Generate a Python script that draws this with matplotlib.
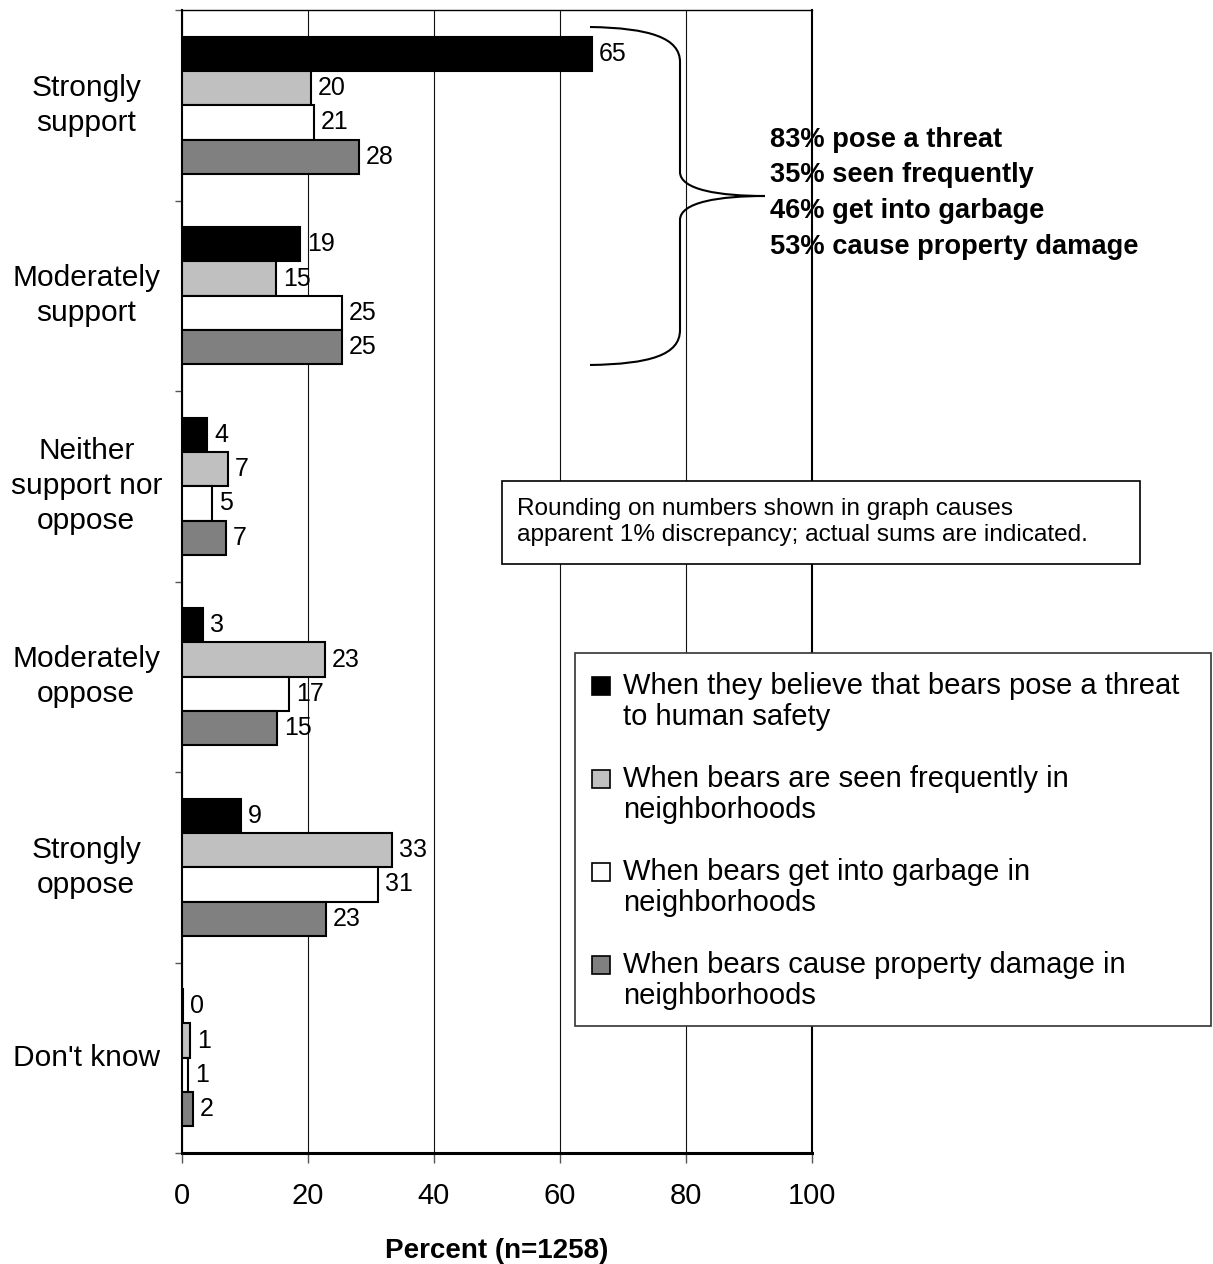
import numpy as np
import matplotlib.pyplot as plt
from matplotlib.patches import Rectangle, PathPatch
from matplotlib.path import Path

plt.rcParams['font.family'] = ['Liberation Sans', 'DejaVu Sans']

categories = ['Strongly\nsupport', 'Moderately\nsupport', 'Neither\nsupport nor\noppose',
              'Moderately\noppose', 'Strongly\noppose', "Don't know"]
series = ['When they believe that bears pose a threat\nto human safety',
          'When bears are seen frequently in\nneighborhoods',
          'When bears get into garbage in\nneighborhoods',
          'When bears cause property damage in\nneighborhoods']
colors = ['#000000', '#C0C0C0', '#FFFFFF', '#808080']

threat = [65.0, 18.7, 4.0, 3.4, 9.4, 0.2]
seen = [20.4, 14.9, 7.3, 22.7, 33.4, 1.3]
garbage = [21.0, 25.4, 4.8, 17.0, 31.1, 1.0]
damage = [28.1, 25.4, 7.0, 15.1, 22.9, 1.7]
values = [threat, seen, garbage, damage]

support_totals = [83, 35, 46, 53]
support_names = ['pose a threat', 'seen frequently', 'get into garbage', 'cause property damage']
note = 'Rounding on numbers shown in graph causes\napparent 1% discrepancy; actual sums are indicated.'

W, H = 1213, 1264
fig = plt.figure(figsize=(W / 100, H / 100), dpi=100)
ax = fig.add_axes([182 / W, 1 - 1153 / H, 630 / W, 1143 / H])


def px(x, y):
    # figure pixel (from top-left) -> figure fraction
    return x / W, 1 - y / H


y = np.arange(len(categories))
h = 0.18
for i, vals in enumerate(values):
    bars = ax.barh(y + (i - 1.5) * h, vals, height=h, color=colors[i],
                   edgecolor='black', linewidth=1.5, zorder=3)
    for b, v in zip(bars, vals):
        ax.annotate('%.0f' % v, (b.get_width(), b.get_y() + b.get_height() / 2),
                    xytext=(5, 0), textcoords='offset points', ha='left', va='center',
                    fontsize=18, zorder=5)

ax.set_xlim(0, 100)
ax.set_ylim(len(categories) - 0.5, -0.5)
ax.set_xticks(np.arange(0, 101, 20))
ax.tick_params(axis='x', labelsize=21, length=7, width=1, color='#555555', pad=14)
ax.set_yticks(np.arange(-0.5, len(categories), 1))
ax.set_yticklabels([])
ax.tick_params(axis='y', length=5, width=1, color='#555555')
for yy, cat in zip(y, categories):
    ax.text(-0.152, yy, cat, transform=ax.get_yaxis_transform(), ha='center', va='center',
            multialignment='center', fontsize=21.5, linespacing=1.32)
ax.set_xlabel('Percent (n=1258)', fontsize=20, fontweight='bold', labelpad=20)
ax.xaxis.grid(True, color='#111111', linewidth=0.8, zorder=0)
ax.set_axisbelow(True)
ax.spines['left'].set_linewidth(1.5)
ax.spines['bottom'].set_linewidth(2.2)
ax.spines['right'].set_linewidth(1.5)
ax.spines['top'].set_linewidth(1.0)

# brace
pts = [px(590, 27), px(650, 28), px(680, 38), px(680, 62),
       px(680, 172),
       px(680, 190), px(720, 196), px(765, 196),
       px(720, 196), px(680, 202), px(680, 220),
       px(680, 330),
       px(680, 355), px(650, 364), px(590, 365)]
codes = [Path.MOVETO, Path.CURVE4, Path.CURVE4, Path.CURVE4, Path.LINETO,
         Path.CURVE4, Path.CURVE4, Path.CURVE4, Path.CURVE4, Path.CURVE4, Path.CURVE4,
         Path.LINETO, Path.CURVE4, Path.CURVE4, Path.CURVE4]
fig.patches.append(PathPatch(Path(pts, codes), facecolor='none', edgecolor='black',
                             linewidth=1.5, transform=fig.transFigure))

for k, (t, n) in enumerate(zip(support_totals, support_names)):
    fig.text(*px(770, 140 + k * 35.5), '%d%% %s' % (t, n), fontsize=19.6,
             fontweight='bold', va='center', ha='left')

# note box
x0, y0 = px(502, 564)
fig.patches.append(Rectangle((x0, y0), 638 / W, 83 / H, transform=fig.transFigure,
                             facecolor='white', edgecolor='black', linewidth=1.2, zorder=4))
fig.text(*px(517, 522), note, fontsize=17.6, va='center', ha='left', linespacing=1.22, zorder=5)

# legend
x0, y0 = px(575, 1026)
fig.patches.append(Rectangle((x0, y0), 636 / W, 373 / H, transform=fig.transFigure,
                             facecolor='white', edgecolor='#333333', linewidth=1.2, zorder=4))
for k, (s, c) in enumerate(zip(series, colors)):
    yc = 686 + k * 93
    sx, sy = px(592, yc + 9)
    fig.patches.append(Rectangle((sx, sy), 18 / W, 18 / H, transform=fig.transFigure,
                                 facecolor=c, edgecolor='black', linewidth=1.2, zorder=5))
    fig.text(*px(623, yc - 14), s, fontsize=21, va='top', ha='left', linespacing=1.13, zorder=5)

fig.savefig('out.png', dpi=100)
